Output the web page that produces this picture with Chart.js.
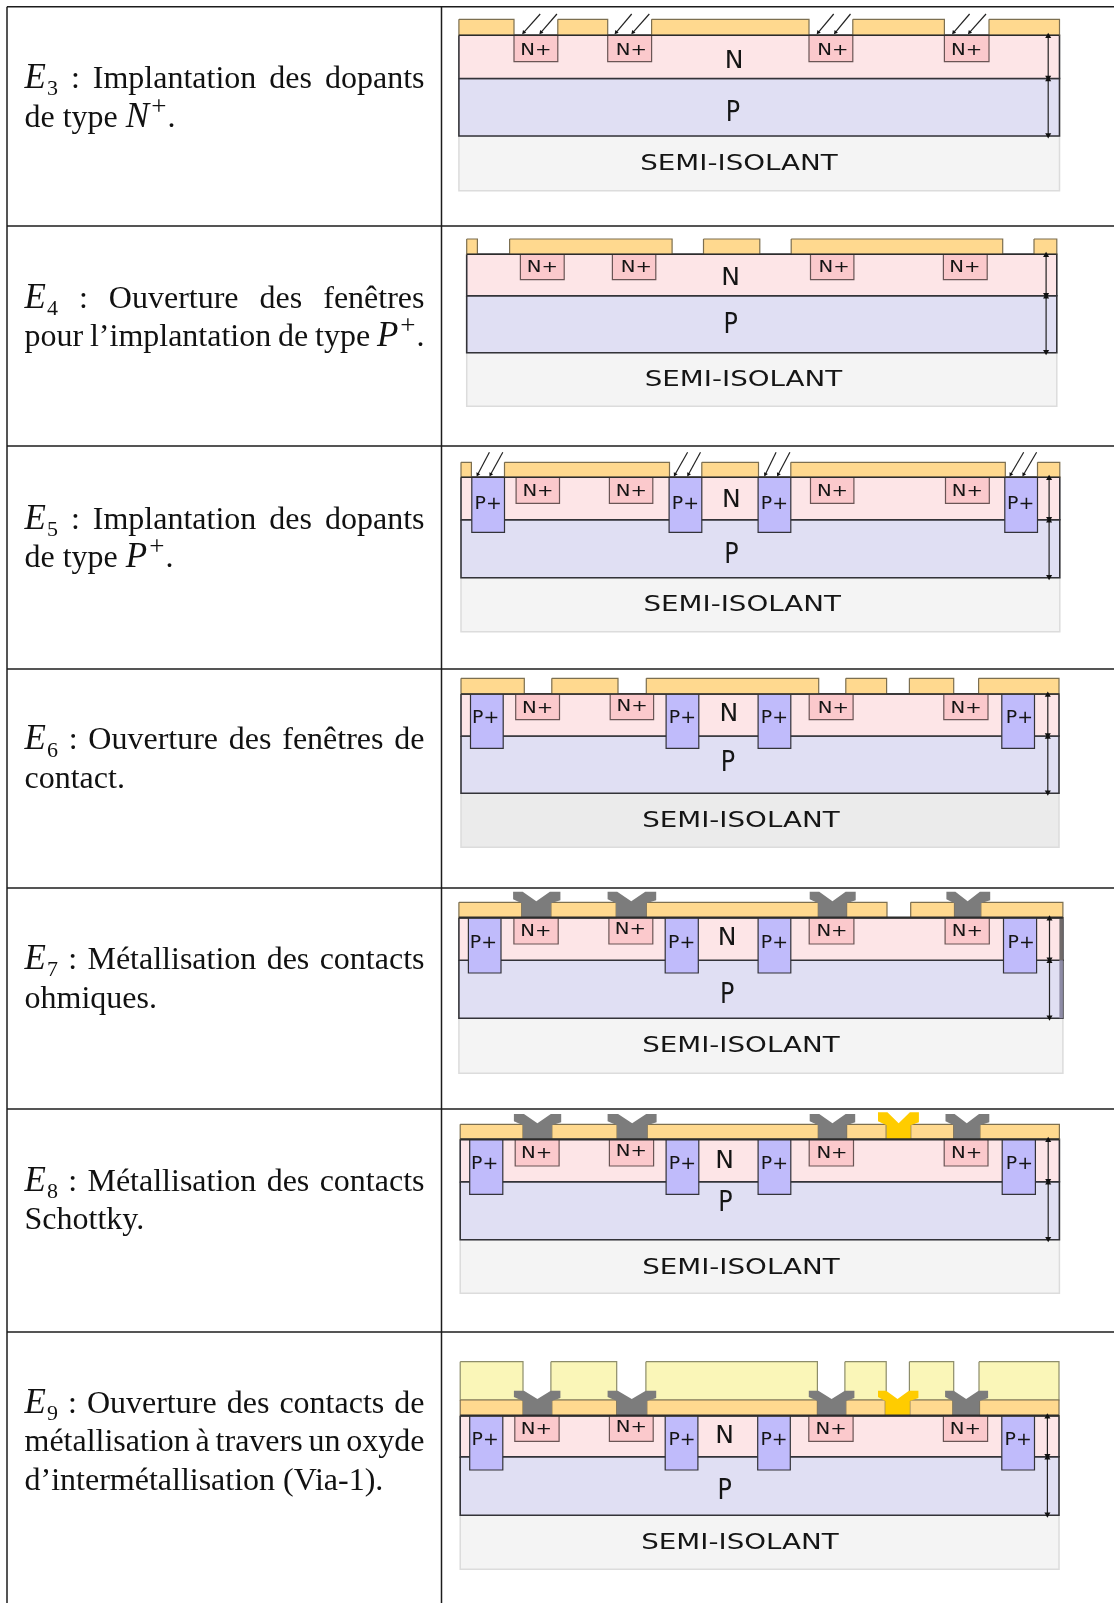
<!DOCTYPE html>
<html lang="fr">
  <head>
    <meta charset="UTF-8" />
    <title>Étapes de fabrication</title>
    <script src="https://cdn.jsdelivr.net/npm/chart.js"></script>
    <style>
      html, body { margin: 0; padding: 0; background: #fff; overflow: hidden; }
      #page { position: relative; width: 1114px; height: 1603px; overflow: hidden; }
      #grid { position: absolute; left: 0; top: 0; width: 1114px; height: 1603px; }
      .step {
        position: absolute; left: 24.5px; width: 400px;
        font: 32px/38.5px "Liberation Serif", serif; color: #111;
      }
      .step div { text-align: justify; text-align-last: justify; white-space: normal; }
      .step div.last { text-align-last: left; white-space: nowrap; }
      .step div.tight { word-spacing: -5px; }
      .step i { font-size: 35px; line-height: 0; }
      .step sub { font-size: 22px; line-height: 0; margin-left: 1px; }
      .step sup { font-size: 27px; line-height: 0; margin-left: 2px; margin-right: 1px; }
      #chart { position: absolute; left: 0; top: 0; }
    </style>
  </head>
  <body>
    <div id="page">
      <canvas id="grid" width="1114" height="1603"></canvas>
      <canvas id="chart" width="1114" height="1603"></canvas>
      <div id="steps"></div>
    </div>

    <script>
      // table rules, y of each horizontal line
      const rowLines = [6.7, 226, 446, 669, 888, 1109, 1332];
      const tableX = [7, 441.5, 1114];

      // left column texts, baseline of the first line
      const stepBaselines = [87.5, 307, 528, 748.7, 968.5, 1190, 1412];
      const stepTexts = [
        ["<i>E</i><sub>3</sub> : Implantation des dopants", "de type <i>N</i><sup>+</sup>."],
        ["<i>E</i><sub>4</sub> : Ouverture des fenêtres", "pour l’implantation de type <i>P</i><sup>+</sup>."],
        ["<i>E</i><sub>5</sub> : Implantation des dopants", "de type <i>P</i><sup>+</sup>."],
        ["<i>E</i><sub>6</sub> : Ouverture des fenêtres de", "contact."],
        ["<i>E</i><sub>7</sub> : Métallisation des contacts", "ohmiques."],
        ["<i>E</i><sub>8</sub> : Métallisation des contacts", "Schottky."],
        ["<i>E</i><sub>9</sub> : Ouverture des contacts de", "métallisation à travers un oxyde", "d’intermétallisation (Via-1)."],
      ];

      // layers: oxide top, oxide bottom, N bottom, P bottom, substrate bottom
      const e3Layers = [19.3, 35.3, 78.5, 136, 190.7];
      const e3Edges = [458.9, 1059.5];
      const e3Oxide = [[458.9, 514], [557.8, 607.7], [651.6, 809], [852.8, 944.4], [989, 1059.5]];
      const e3NPlus = [[514, 557.8], [607.7, 651.6], [809, 852.8], [944.4, 989]];
      const e3NPlusBottom = 61.7;
      const e3NPlusText = [[535.9, 49], [631.3, 49], [832.9, 49], [966.6, 49]];
      const e3NText = [734, 60];
      const e3PText = [733, 111];
      const e3SemiText = [739, 163.3];
      const e3ArrowX = 1048.2;
      const e3Implant = [[540.2, 523.8], [556.9, 541], [631.7, 616.2], [649.3, 633], [833.7, 818.3], [850.5, 835.5], [969.6, 953.7], [986, 969.6]];
      const e3ImplantY = [14, 32.3];

      const e4Layers = [239, 254.3, 295.7, 352.7, 406.3];
      const e4Edges = [466.7, 1056.8];
      const e4Oxide = [[466.7, 477.4], [509.6, 672.1], [703.5, 759.8], [791.2, 1002.7], [1034, 1056.8]];
      const e4NPlus = [[520.4, 564.2], [612.4, 655.8], [810.5, 853.9], [943.4, 987.2]];
      const e4NPlusBottom = 279.7;
      const e4NPlusText = [[542.3, 266.7], [636.4, 266.7], [834.2, 266.7], [964.9, 266.7]];
      const e4NText = [730.6, 276.7];
      const e4PText = [730.6, 323.7];
      const e4SemiText = [743.5, 379];
      const e4ArrowX = 1046.1;

      const e5Layers = [462.3, 477.3, 519.7, 577.7, 631.7];
      const e5Edges = [461, 1059.8];
      const e5Oxide = [[461, 471.4], [504.5, 669.5], [701.8, 758.5], [790.8, 1005.3], [1037.5, 1059.8]];
      const e5NPlus = [[516.1, 559.5], [609.4, 652.8], [810.5, 853.9], [945.5, 989.3]];
      const e5NPlusBottom = 503.3;
      const e5NPlusText = [[538, 490], [631.3, 490], [832.5, 490], [967.4, 490]];
      const e5PPlus = [[471.8, 504.5], [669.1, 701.8], [758.1, 790.8], [1004.8, 1037.5]];
      const e5PPlusBottom = 532.3;
      const e5PPlusText = [[488.1, 502.7], [685.4, 502.7], [774.4, 502.7], [1020.7, 502.7]];
      const e5NText = [731.4, 499.3];
      const e5PText = [731.4, 553.3];
      const e5SemiText = [742.2, 604];
      const e5ArrowX = 1049.1;
      const e5Implant = [[489.4, 477.8], [502.8, 490.7], [687.6, 675.1], [700.5, 688.5], [776.1, 765.4], [789.9, 778.3], [1023.7, 1010.8], [1036.6, 1023.7]];
      const e5ImplantY = [452.3, 474.3];

      const e6Layers = [678.3, 694, 736, 793.3, 847.3];
      const e6Edges = [461, 1059];
      const e6Oxide = [[461, 524.3], [551.8, 618], [646.3, 818.7], [845.8, 886.6], [909.4, 953.7], [978.6, 1059]];
      const e6NPlus = [[515.7, 559.5], [610.2, 653.6], [809.2, 853.1], [943.8, 988]];
      const e6NPlusBottom = 719.7;
      const e6NPlusText = [[537.6, 707], [632.1, 705], [833.3, 707], [966.1, 707]];
      const e6PPlus = [[470.5, 503.2], [666.1, 698.8], [758.1, 790.8], [1001.8, 1034.5]];
      const e6PPlusBottom = 748.3;
      const e6PPlusText = [[485.6, 716.7], [682.4, 716.7], [774.4, 716.7], [1019.4, 716.7]];
      const e6NText = [728.9, 712.7];
      const e6PText = [728, 761.7];
      const e6SemiText = [740.9, 820];
      const e6ArrowX = 1047.8;

      const e7Layers = [902.3, 917.7, 960.3, 1018.3, 1073.3];
      const e7Edges = [458.9, 1062.9];
      const e7Oxide = [[458.9, 521.7], [550.9, 616.2], [646.3, 818.3], [846.6, 887], [910.7, 954.5], [980.8, 1062.9]];
      const e7NPlus = [[513.9, 558.2], [608.9, 652.8], [809.2, 853.9], [945.1, 989.3]];
      const e7NPlusBottom = 944;
      const e7NPlusText = [[535.9, 930.7], [630.4, 928.3], [832, 930.7], [967.4, 930.7]];
      const e7PPlus = [[468.4, 501], [665.2, 698.3], [758.1, 790.8], [1003.5, 1036.6]];
      const e7PPlusBottom = 973;
      const e7PPlusText = [[483.4, 941.7], [681.6, 941.7], [774.4, 941.7], [1021.2, 941.7]];
      const e7Contacts = [[513.1, 521.7, 550.9, 560.4], [607.6, 616.2, 646.3, 656.2], [809.7, 818.3, 846.6, 855.7], [946.4, 954.5, 980.8, 990.2]];
      const e7ContactTop = 891.7;
      const e7Sliver = [1059.4, 1062.9];
      const e7NText = [727.1, 937.3];
      const e7PText = [727.1, 993.3];
      const e7SemiText = [740.9, 1045];
      const e7ArrowX = 1049.5;

      const e8Layers = [1124.3, 1139.3, 1181.7, 1239.7, 1293.3];
      const e8Edges = [460.2, 1059.4];
      const e8Oxide = [[460.2, 523], [551.8, 617.1], [647.2, 818.3], [846.6, 886.2], [910.7, 953.7], [979.9, 1059.4]];
      const e8NPlus = [[515.2, 559.1], [609.4, 653.6], [809.2, 853.5], [944.2, 988]];
      const e8NPlusBottom = 1166;
      const e8NPlusText = [[536.7, 1152.7], [631.3, 1150], [832, 1152.7], [966.6, 1152.7]];
      const e8PPlus = [[469.7, 502.8], [666.1, 698.8], [758.1, 790.8], [1002.2, 1035.4]];
      const e8PPlusBottom = 1194.3;
      const e8PPlusText = [[484.7, 1163.3], [682.4, 1163.3], [774.4, 1163.3], [1019.4, 1163.3]];
      const e8Contacts = [[513.9, 523, 551.8, 561.2], [607.6, 617.1, 647.2, 656.6], [809.7, 818.3, 846.6, 855.2], [945.5, 953.7, 979.9, 989.3]];
      const e8ContactTop = 1114;
      const e8Schottky = [878, 886.6, 910.7, 918.9];
      const e8SchottkyTop = 1112.3;
      const e8NText = [724.6, 1160];
      const e8PText = [725.4, 1201.7];
      const e8SemiText = [740.9, 1266.7];
      const e8ArrowX = 1048.2;

      const e9Layers = [1400, 1415.7, 1456.7, 1515.3, 1569.3];
      const e9Edges = [460.2, 1059];
      const e9Via = [[460.2, 523], [550.9, 616.7], [645.9, 817.4], [844.9, 886.2], [909.4, 953.7], [979, 1059]];
      const e9ViaTop = 1361.7;
      const e9Oxide = [[460.2, 523], [551.8, 616.7], [646.8, 817.4], [845.8, 885.3], [909.8, 952.8], [979.5, 1059]];
      const e9NPlus = [[514.8, 559.1], [609.4, 653.2], [808.8, 853.1], [943.4, 987.6]];
      const e9NPlusBottom = 1441.3;
      const e9NPlusText = [[536.3, 1428.3], [631.3, 1426.7], [831.2, 1428.3], [965.3, 1428.3]];
      const e9PPlus = [[469.7, 502.8], [665.2, 697.9], [757.7, 790.3], [1001.8, 1034.5]];
      const e9PPlusBottom = 1470;
      const e9PPlusText = [[485.1, 1439], [682, 1439], [774, 1439], [1018.2, 1439]];
      const e9Contacts = [[513.9, 523, 551.8, 560.4], [607.6, 616.7, 646.8, 656.2], [808.8, 817.4, 845.8, 854.4], [945.1, 952.8, 979.5, 988.1]];
      const e9ContactTop = 1390.7;
      const e9Schottky = [878, 885.3, 909.8, 918.4];
      const e9SchottkyTop = 1390.7;
      const e9NText = [724.6, 1435];
      const e9PText = [724.6, 1489];
      const e9SemiText = [740, 1541.7];
      const e9ArrowX = 1047.4;

      const steps = [
        { layers: e3Layers, edges: e3Edges, oxide: e3Oxide, nPlus: e3NPlus, nPlusBottom: e3NPlusBottom, nPlusText: e3NPlusText, nText: e3NText, pText: e3PText, semiText: e3SemiText, arrowX: e3ArrowX, implant: e3Implant, implantY: e3ImplantY },
        { layers: e4Layers, edges: e4Edges, oxide: e4Oxide, nPlus: e4NPlus, nPlusBottom: e4NPlusBottom, nPlusText: e4NPlusText, nText: e4NText, pText: e4PText, semiText: e4SemiText, arrowX: e4ArrowX },
        { layers: e5Layers, edges: e5Edges, oxide: e5Oxide, nPlus: e5NPlus, nPlusBottom: e5NPlusBottom, nPlusText: e5NPlusText, pPlus: e5PPlus, pPlusBottom: e5PPlusBottom, pPlusText: e5PPlusText, nText: e5NText, pText: e5PText, semiText: e5SemiText, arrowX: e5ArrowX, implant: e5Implant, implantY: e5ImplantY },
        { layers: e6Layers, edges: e6Edges, oxide: e6Oxide, nPlus: e6NPlus, nPlusBottom: e6NPlusBottom, nPlusText: e6NPlusText, pPlus: e6PPlus, pPlusBottom: e6PPlusBottom, pPlusText: e6PPlusText, nText: e6NText, pText: e6PText, semiText: e6SemiText, arrowX: e6ArrowX, semiColor: "#ebebeb" },
        { layers: e7Layers, edges: e7Edges, oxide: e7Oxide, nPlus: e7NPlus, nPlusBottom: e7NPlusBottom, nPlusText: e7NPlusText, pPlus: e7PPlus, pPlusBottom: e7PPlusBottom, pPlusText: e7PPlusText, contacts: e7Contacts, contactTop: e7ContactTop, sliver: e7Sliver, nText: e7NText, pText: e7PText, semiText: e7SemiText, arrowX: e7ArrowX },
        { layers: e8Layers, edges: e8Edges, oxide: e8Oxide, nPlus: e8NPlus, nPlusBottom: e8NPlusBottom, nPlusText: e8NPlusText, pPlus: e8PPlus, pPlusBottom: e8PPlusBottom, pPlusText: e8PPlusText, contacts: e8Contacts, contactTop: e8ContactTop, schottky: e8Schottky, schottkyTop: e8SchottkyTop, nText: e8NText, pText: e8PText, semiText: e8SemiText, arrowX: e8ArrowX },
        { layers: e9Layers, edges: e9Edges, via: e9Via, viaTop: e9ViaTop, oxide: e9Oxide, nPlus: e9NPlus, nPlusBottom: e9NPlusBottom, nPlusText: e9NPlusText, pPlus: e9PPlus, pPlusBottom: e9PPlusBottom, pPlusText: e9PPlusText, contacts: e9Contacts, contactTop: e9ContactTop, schottky: e9Schottky, schottkyTop: e9SchottkyTop, nText: e9NText, pText: e9PText, semiText: e9SemiText, arrowX: e9ArrowX },
      ];

      // left column text, 29.5px is the baseline offset inside a line box
      const stepsBox = document.getElementById("steps");
      stepTexts.forEach((lines, i) => {
        const box = document.createElement("div");
        box.className = "step";
        box.style.top = stepBaselines[i] - 29.5 + "px";
        lines.forEach((line, j) => {
          const row = document.createElement("div");
          if (j === lines.length - 1 && i !== 1) row.className = "last";
          if (i === 1 && j === 1) row.className = "tight";
          if (i === 6 && j === 1) row.className = "tight";
          row.innerHTML = line;
          box.appendChild(row);
        });
        stepsBox.appendChild(box);
      });

      // table rules
      const g = document.getElementById("grid").getContext("2d");
      g.strokeStyle = "#1c1c1c";
      g.lineWidth = 1.5;
      rowLines.forEach((y) => {
        g.beginPath();
        g.moveTo(tableX[0], y);
        g.lineTo(tableX[2], y);
        g.stroke();
      });
      [tableX[0], tableX[1]].forEach((x) => {
        g.beginPath();
        g.moveTo(x, rowLines[0]);
        g.lineTo(x, 1603);
        g.stroke();
      });

      const colors = {
        semi: "#f4f4f4",
        semiLine: "#dcdcdc",
        p: "#e0dff3",
        n: "#fde5e7",
        nPlus: "#fbc9cc",
        pPlus: "#c0bbfb",
        oxide: "#ffd98f",
        via: "#faf6b8",
        metal: "#7c7c7c",
        gold: "#ffcc00",
        line: "#333338",
      };

      function rect(x0, x1, y0, y1) {
        return [{ x: x0, y: y0 }, { x: x1, y: y0 }, { x: x1, y: y1 }, { x: x0, y: y1 }, { x: x0, y: y0 }];
      }

      // contact: wing left, stem left, stem right, wing right
      function contactShape(c, top, oxideTop, oxideBottom) {
        const mid = (c[1] + c[2]) / 2;
        const wing = (c[2] - c[1]) * 0.17;
        return [
          { x: c[0], y: top },
          { x: c[1] + wing * 0.2, y: top },
          { x: mid, y: oxideTop - 1 },
          { x: c[2] - wing * 0.2, y: top },
          { x: c[3], y: top },
          { x: c[3], y: oxideTop - 2 },
          { x: c[2], y: oxideTop + 1 },
          { x: c[2], y: oxideBottom },
          { x: c[1], y: oxideBottom },
          { x: c[1], y: oxideTop + 1 },
          { x: c[0], y: oxideTop - 3 },
          { x: c[0], y: top },
        ];
      }

      function shape(points, fillColor, lineColor, width) {
        return {
          data: points,
          showLine: true,
          fill: "shape",
          backgroundColor: fillColor,
          borderColor: lineColor || fillColor,
          borderWidth: width === undefined ? 1.2 : width,
          pointRadius: 0,
          clip: false,
        };
      }

      function arrow(x0, y0, x1, y1, size, both) {
        const angle = (Math.atan2(x1 - x0, y0 - y1) * 180) / Math.PI;
        return {
          data: [{ x: x0, y: y0 }, { x: x1, y: y1 }],
          showLine: true,
          borderColor: "#222",
          borderWidth: 1.2,
          pointStyle: "triangle",
          pointRadius: [both ? size : 0, size],
          pointRotation: [angle + 180, angle],
          pointBackgroundColor: "#111",
          pointBorderWidth: 0,
          clip: false,
        };
      }

      const datasets = [];
      const labels = [];

      steps.forEach((s) => {
        const [oxTop, oxBottom, nBottom, pBottom, semiBottom] = s.layers;
        const [left, right] = s.edges;
        datasets.push(shape(rect(left, right, pBottom, semiBottom), s.semiColor || colors.semi, colors.semiLine, 1.5));
        datasets.push(shape(rect(left, right, nBottom, pBottom), colors.p, colors.line, 1.6));
        datasets.push(shape(rect(left, right, oxBottom, nBottom), colors.n, colors.line, 1.6));
        if (s.sliver) {
          datasets.push(shape(rect(s.sliver[0], s.sliver[1], oxBottom, nBottom), "#706a6a", null, 0));
          datasets.push(shape(rect(s.sliver[0], s.sliver[1], nBottom, pBottom), "#8d8ba5", null, 0));
        }
        s.nPlus.forEach((b) => {
          datasets.push(shape(rect(b[0], b[1], oxBottom, s.nPlusBottom), colors.nPlus, "#6a5555"));
        });
        (s.pPlus || []).forEach((b) => {
          datasets.push(shape(rect(b[0], b[1], oxBottom, s.pPlusBottom), colors.pPlus, colors.line));
        });
        (s.via || []).forEach((b) => {
          datasets.push(shape(rect(b[0], b[1], s.viaTop, oxTop), colors.via, "#8d8d6a"));
        });
        s.oxide.forEach((b) => {
          datasets.push(shape(rect(b[0], b[1], oxTop, oxBottom), colors.oxide, "#7c6f50"));
        });
        (s.contacts || []).forEach((c) => {
          datasets.push(shape(contactShape(c, s.contactTop, oxTop, oxBottom), colors.metal, null, 0));
        });
        if (s.schottky) {
          datasets.push(shape(contactShape(s.schottky, s.schottkyTop, oxTop, oxBottom), colors.gold, null, 0));
        }
        // top line of the N layer goes over the oxide edge
        datasets.push(shape([{ x: left, y: oxBottom }, { x: right, y: oxBottom }], "transparent", "#2c2c2c", s.contacts ? 2.2 : 1.6));

        datasets.push(arrow(s.arrowX, oxBottom + 1, s.arrowX, nBottom - 1, 3.5, true));
        datasets.push(arrow(s.arrowX, nBottom + 1, s.arrowX, pBottom - 1, 3.5, true));
        (s.implant || []).forEach((a) => {
          datasets.push(arrow(a[0], s.implantY[0], a[1], s.implantY[1], 2.5, false));
        });

        s.nPlusText.forEach((p) => labels.push({ text: "N+", at: p, size: 15.5, stretch: 1.27, drop: 1.5 }));
        (s.pPlusText || []).forEach((p) => labels.push({ text: "P+", at: p, size: 18, stretch: 1.05, drop: 1.5 }));
        labels.push({ text: "N", at: s.nText, size: 25, stretch: 1, drop: 1.5 });
        labels.push({ text: "P", at: s.pText, size: 28, stretch: 0.85, drop: 2.5 });
        labels.push({ text: "SEMI-ISOLANT", at: s.semiText, size: 21, stretch: 1.32, drop: 1.5 });
      });

      // labels placed through the scales
      const layerText = {
        id: "layerText",
        afterDatasetsDraw(chart) {
          const { ctx, scales } = chart;
          labels.forEach((l) => {
            ctx.save();
            ctx.translate(scales.x.getPixelForValue(l.at[0]), scales.y.getPixelForValue(l.at[1]) + l.drop);
            ctx.scale(l.stretch, 1);
            ctx.font = l.size + 'px "DejaVu Sans"';
            ctx.fillStyle = "#151515";
            ctx.textAlign = "center";
            ctx.textBaseline = "middle";
            ctx.fillText(l.text, 0, 0);
            ctx.restore();
          });
        },
      };

      // Chart.js paints the first dataset last, so reverse to keep the layer order
      new Chart(document.getElementById("chart").getContext("2d"), {
        type: "scatter",
        data: { datasets: datasets.reverse() },
        options: {
          responsive: false,
          animation: false,
          events: [],
          layout: { padding: 0, autoPadding: false },
          plugins: { legend: { display: false }, tooltip: { enabled: false } },
          elements: { line: { tension: 0 } },
          scales: {
            x: { type: "linear", min: 0, max: 1114, display: false },
            y: { type: "linear", min: 0, max: 1603, reverse: true, display: false },
          },
        },
        plugins: [layerText],
      });
    </script>
  </body>
</html>
